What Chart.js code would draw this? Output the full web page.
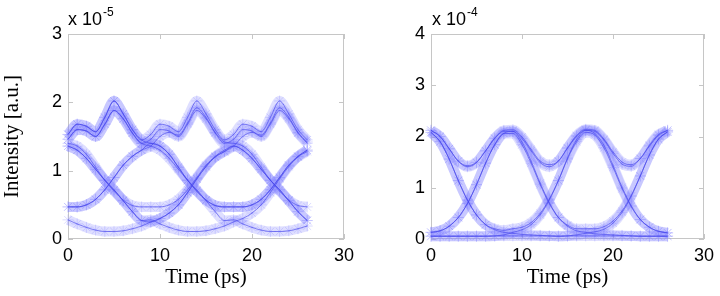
<!DOCTYPE html>
<html>
<head>
<meta charset="utf-8">
<script src="https://cdn.jsdelivr.net/npm/chart.js@4.4.1/dist/chart.umd.min.js"></script>
<style>
  html, body { margin: 0; padding: 0; background: #fff; }
  #wrap { position: relative; width: 720px; height: 296px; overflow: hidden; }
  canvas { position: absolute; top: 0; }
  #eye-left { left: 0; }
  #eye-right { left: 360px; }
  .mult { position: absolute; font-family: 'Liberation Sans', Arial, sans-serif; font-size: 18px; color: #000; line-height: 1; white-space: nowrap; }
  .mult sup { font-size: 12px; position: relative; top: -9px; vertical-align: baseline; margin-left: 1px; }
</style>
</head>
<body>
<div id="wrap">
  <canvas id="eye-left" width="360" height="296"></canvas>
  <canvas id="eye-right" width="360" height="296"></canvas>
  <div class="mult" style="left:68px;top:10px">x 10<sup>-5</sup></div>
  <div class="mult" style="left:432px;top:10px">x 10<sup>-4</sup></div>
</div>
<script>
// sample times (ps)
const timePs = [0, 1, 2, 3, 4, 5, 6, 7, 8, 9, 10, 11, 12, 13, 14, 15, 16, 17, 18, 19, 20, 21, 22, 23, 24, 25, 26];

// left eye, intensity in units of 1e-5
const leftHighA = [1.53, 1.68, 1.65, 1.57, 1.78, 2.02, 1.83, 1.60, 1.45, 1.53, 1.68, 1.65, 1.57, 1.78, 2.02, 1.83, 1.60, 1.45, 1.53, 1.68, 1.65, 1.57, 1.78, 2.02, 1.83, 1.60, 1.45];
const leftHighB = [1.46, 1.60, 1.58, 1.50, 1.68, 1.88, 1.76, 1.55, 1.40, 1.46, 1.60, 1.58, 1.50, 1.68, 1.88, 1.76, 1.55, 1.40, 1.46, 1.60, 1.58, 1.50, 1.68, 1.88, 1.76, 1.55, 1.40];
const left1010 = [1.40, 1.36, 1.24, 1.05, 0.86, 0.70, 0.57, 0.49, 0.47, 0.47, 0.47, 0.50, 0.58, 0.72, 0.90, 1.08, 1.21, 1.30, 1.36, 1.30, 1.18, 1.02, 0.86, 0.72, 0.56, 0.40, 0.27];
const left0101 = [0.47, 0.47, 0.50, 0.58, 0.72, 0.90, 1.08, 1.21, 1.30, 1.40, 1.36, 1.24, 1.05, 0.86, 0.70, 0.57, 0.49, 0.47, 0.47, 0.47, 0.50, 0.58, 0.72, 0.90, 1.08, 1.21, 1.30];
const left1001 = [1.36, 1.30, 1.18, 1.02, 0.86, 0.72, 0.56, 0.40, 0.27, 0.28, 0.22, 0.17, 0.13, 0.11, 0.11, 0.12, 0.15, 0.19, 0.25, 0.30, 0.38, 0.50, 0.68, 0.88, 1.06, 1.20, 1.28];
const left0011 = [0.28, 0.22, 0.17, 0.13, 0.11, 0.11, 0.12, 0.15, 0.19, 0.25, 0.30, 0.38, 0.50, 0.68, 0.88, 1.06, 1.20, 1.28, 1.36, 1.50, 1.56, 1.52, 1.70, 1.92, 1.78, 1.56, 1.42];
const left1100 = [1.46, 1.60, 1.58, 1.50, 1.68, 1.88, 1.76, 1.55, 1.40, 1.36, 1.30, 1.18, 1.02, 0.86, 0.72, 0.56, 0.40, 0.27, 0.28, 0.22, 0.17, 0.13, 0.11, 0.11, 0.12, 0.15, 0.19];
const left0110 = [0.47, 0.47, 0.50, 0.58, 0.72, 0.90, 1.08, 1.21, 1.30, 1.36, 1.50, 1.56, 1.52, 1.70, 1.92, 1.78, 1.56, 1.42, 1.40, 1.36, 1.24, 1.05, 0.86, 0.70, 0.57, 0.49, 0.47];
const left1010b = [1.36, 1.30, 1.18, 1.02, 0.86, 0.72, 0.56, 0.40, 0.27, 0.25, 0.30, 0.38, 0.50, 0.68, 0.88, 1.06, 1.20, 1.28, 1.36, 1.30, 1.18, 1.02, 0.86, 0.72, 0.56, 0.40, 0.27];
const left1101 = [1.53, 1.68, 1.65, 1.57, 1.78, 2.02, 1.83, 1.60, 1.45, 1.40, 1.36, 1.24, 1.05, 0.86, 0.70, 0.57, 0.49, 0.47, 0.47, 0.47, 0.50, 0.58, 0.72, 0.90, 1.08, 1.21, 1.30];

// right eye, intensity in units of 1e-4
const right1111 = [2.12, 2.00, 1.76, 1.52, 1.43, 1.50, 1.72, 1.97, 2.12, 2.13, 1.99, 1.75, 1.52, 1.45, 1.52, 1.78, 2.02, 2.14, 2.12, 1.95, 1.70, 1.50, 1.45, 1.57, 1.81, 2.02, 2.12];
const right1010 = [2.08, 1.90, 1.56, 1.14, 0.76, 0.47, 0.28, 0.20, 0.17, 0.20, 0.23, 0.32, 0.50, 0.78, 1.14, 1.56, 1.90, 2.08, 2.03, 1.78, 1.40, 0.98, 0.63, 0.38, 0.23, 0.15, 0.12];
const right0101 = [0.13, 0.16, 0.25, 0.42, 0.69, 1.06, 1.48, 1.84, 2.06, 2.06, 1.84, 1.48, 1.06, 0.69, 0.42, 0.27, 0.20, 0.20, 0.20, 0.24, 0.35, 0.55, 0.85, 1.23, 1.64, 1.95, 2.09];
const right1001 = [2.08, 1.90, 1.56, 1.14, 0.76, 0.47, 0.28, 0.18, 0.13, 0.11, 0.09, 0.08, 0.07, 0.06, 0.05, 0.06, 0.08, 0.11, 0.14, 0.19, 0.31, 0.52, 0.83, 1.23, 1.64, 1.95, 2.09];
const right0110 = [0.13, 0.16, 0.25, 0.42, 0.69, 1.06, 1.48, 1.84, 2.06, 2.10, 1.96, 1.72, 1.49, 1.41, 1.52, 1.77, 2.00, 2.12, 2.06, 1.83, 1.44, 1.01, 0.65, 0.38, 0.23, 0.15, 0.12];
const right0000 = [0.06, 0.06, 0.06, 0.06, 0.06, 0.06, 0.06, 0.06, 0.06, 0.06, 0.06, 0.06, 0.06, 0.06, 0.06, 0.06, 0.06, 0.06, 0.06, 0.06, 0.06, 0.06, 0.06, 0.06, 0.06, 0.06, 0.06];
const right1100 = [2.12, 2.00, 1.76, 1.52, 1.41, 1.49, 1.72, 1.96, 2.10, 2.10, 1.89, 1.52, 1.09, 0.71, 0.42, 0.25, 0.16, 0.13, 0.10, 0.09, 0.08, 0.07, 0.06, 0.05, 0.05, 0.05, 0.05];
const right0011 = [0.05, 0.05, 0.05, 0.05, 0.05, 0.05, 0.05, 0.06, 0.08, 0.13, 0.18, 0.28, 0.47, 0.76, 1.14, 1.58, 1.94, 2.12, 2.10, 1.93, 1.67, 1.46, 1.42, 1.57, 1.83, 2.04, 2.12];

const leftTraces = [leftHighA, leftHighB, left1010, left0101, left1001, left0011, left1100, left0110, left1010b, left1101];
const rightTraces = [right1111, right1010, right0101, right1001, right0110, right0000, right1100, right0011];

const HALO = 'rgba(130, 130, 255, 0.26)';
const STAR = 'rgba(140, 140, 255, 0.30)';
const CORE = 'rgba(70, 70, 235, 0.65)';
const FRAME = '#c6c6c6';

// MATLAB style box with inward ticks
const framePlugin = {
    id: 'frame',
    beforeDatasetsDraw(chart) {
        const a = chart.chartArea;
        const ctx = chart.ctx;
        const xs = chart.scales.x;
        const ys = chart.scales.y;
        ctx.save();
        ctx.strokeStyle = FRAME;
        ctx.lineWidth = 1;
        ctx.strokeRect(a.left + 0.5, a.top + 0.5, a.right - a.left - 1, a.bottom - a.top - 1);
        ctx.beginPath();
        xs.ticks.forEach(function (t) {
            const x = Math.round(xs.getPixelForValue(t.value)) + 0.5;
            ctx.moveTo(x, a.bottom);
            ctx.lineTo(x, a.bottom - 5);
            ctx.moveTo(x, a.top);
            ctx.lineTo(x, a.top + 5);
        });
        ys.ticks.forEach(function (t) {
            const y = Math.round(ys.getPixelForValue(t.value)) + 0.5;
            ctx.moveTo(a.left, y);
            ctx.lineTo(a.left + 5, y);
            ctx.moveTo(a.right, y);
            ctx.lineTo(a.right - 5, y);
        });
        ctx.stroke();
        ctx.restore();
    },
};

function buildDatasets(traces) {
    const sets = [];
    traces.forEach(function (arr) {
        const pts = timePs.map(function (t, i) { return { x: t, y: arr[i] }; });
        sets.push({
            data: pts,
            borderColor: HALO,
            borderWidth: 10,
            borderCapStyle: 'butt',
            pointStyle: 'star',
            pointRadius: 5.5,
            pointBorderWidth: 1,
            pointBorderColor: STAR,
            pointBackgroundColor: STAR,
            cubicInterpolationMode: 'monotone',
            clip: false,
            order: 2,
        });
        sets.push({
            data: pts,
            borderColor: CORE,
            borderWidth: 1,
            pointRadius: 0,
            cubicInterpolationMode: 'monotone',
            clip: false,
            order: 1,
        });
    });
    return sets;
}

function buildEye(canvasId, traces, yMax, yTitle, yWidth, padRight) {
    const tickFont = { family: "'Liberation Sans', Arial, sans-serif", size: 18 };
    const titleFont = { family: "'Liberation Serif', 'Times New Roman', serif", size: 21 };
    return new Chart(document.getElementById(canvasId).getContext('2d'), {
        type: 'line',
        data: { datasets: buildDatasets(traces) },
        options: {
            responsive: false,
            animation: false,
            events: [],
            layout: { padding: { left: 0, right: padRight, top: 34, bottom: 0 } },
            plugins: { legend: { display: false }, tooltip: { enabled: false } },
            scales: {
                x: {
                    type: 'linear',
                    min: 0,
                    max: 30,
                    grid: { display: false, drawTicks: false },
                    border: { display: false },
                    ticks: { stepSize: 10, color: '#000', font: tickFont, padding: 6, maxRotation: 0 },
                    title: { display: true, text: 'Time (ps)', color: '#000', font: titleFont, padding: { top: 0, bottom: 6 } },
                    afterFit: function (s) { s.height = 57; },
                },
                y: {
                    min: 0,
                    max: yMax,
                    grid: { display: false, drawTicks: false },
                    border: { display: false },
                    ticks: { stepSize: 1, color: '#000', font: tickFont, padding: 6 },
                    title: { display: !!yTitle, text: yTitle, color: '#000', font: titleFont, padding: { top: 0, bottom: 0 } },
                    afterFit: function (s) { s.width = yWidth; },
                },
            },
        },
        plugins: [framePlugin],
    });
}

buildEye('eye-left', leftTraces, 3, 'Intensity [a.u.]', 68, 16);
buildEye('eye-right', rightTraces, 4, '', 71, 11);
</script>
</body>
</html>
